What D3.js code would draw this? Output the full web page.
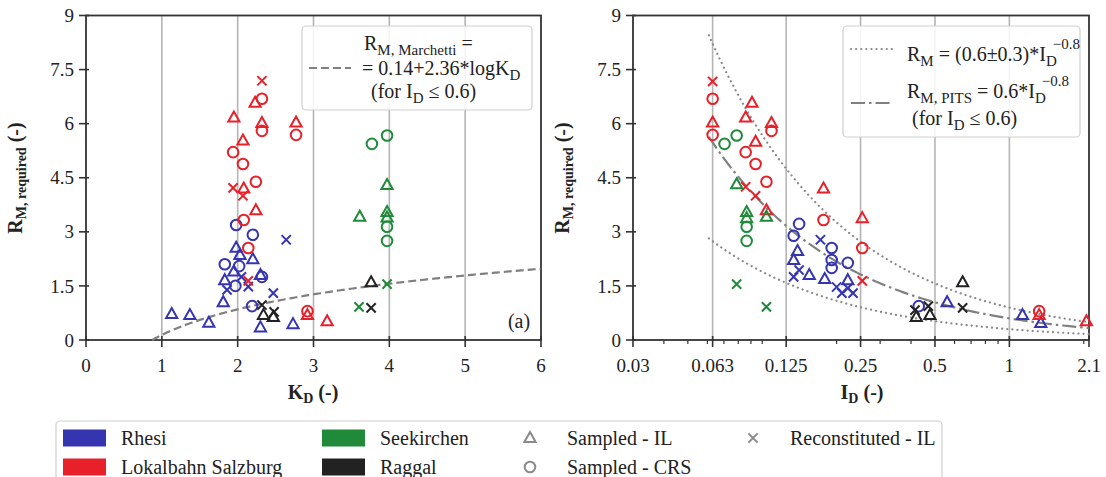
<!DOCTYPE html>
<html>
<head>
<meta charset="utf-8">
<script src="https://cdn.jsdelivr.net/npm/d3@7"></script>
<style>
  body { margin: 0; background: #fff; }
  svg, svg text { font-family: "Liberation Serif", "Times New Roman", "DejaVu Serif", serif; fill: #222; }
</style>
</head>
<body>
<div id="container"></div>
<script>
// ---- data ----
// rows: [site, test type, x, R_M required]
const kdPoints = [
  ["Rhesi", "IL", 1.98, 2.56], ["Rhesi", "IL", 2.03, 2.36], ["Rhesi", "IL", 2.2, 2.24],
  ["Rhesi", "IL", 1.95, 1.9], ["Rhesi", "IL", 2.3, 1.8], ["Rhesi", "IL", 1.83, 1.66],
  ["Rhesi", "IL", 1.81, 1.05], ["Rhesi", "IL", 1.13, 0.72], ["Rhesi", "IL", 1.37, 0.69],
  ["Rhesi", "IL", 1.62, 0.48], ["Rhesi", "IL", 2.3, 0.35], ["Rhesi", "IL", 2.73, 0.44],
  ["Rhesi", "CRS", 1.98, 3.19], ["Rhesi", "CRS", 2.2, 2.92], ["Rhesi", "CRS", 1.83, 2.1],
  ["Rhesi", "CRS", 2.02, 2.05], ["Rhesi", "CRS", 2.32, 1.75], ["Rhesi", "CRS", 1.97, 1.5],
  ["Rhesi", "CRS", 2.19, 0.94],
  ["Rhesi", "REC", 2.64, 2.78], ["Rhesi", "REC", 2.14, 1.48], ["Rhesi", "REC", 1.86, 1.39],
  ["Rhesi", "REC", 2.47, 1.3], ["Rhesi", "REC", 2.05, 1.75],
  ["Lokalbahn", "REC", 2.32, 7.19], ["Lokalbahn", "IL", 2.23, 6.58], ["Lokalbahn", "CRS", 2.32, 6.69],
  ["Lokalbahn", "IL", 1.95, 6.17], ["Lokalbahn", "IL", 2.32, 6.02], ["Lokalbahn", "CRS", 2.32, 5.8],
  ["Lokalbahn", "IL", 2.77, 6.03], ["Lokalbahn", "CRS", 2.77, 5.69], ["Lokalbahn", "IL", 2.07, 5.53],
  ["Lokalbahn", "CRS", 1.94, 5.21], ["Lokalbahn", "CRS", 2.07, 4.88], ["Lokalbahn", "CRS", 2.24, 4.39],
  ["Lokalbahn", "REC", 1.94, 4.22], ["Lokalbahn", "IL", 2.08, 4.2], ["Lokalbahn", "REC", 2.07, 4.0],
  ["Lokalbahn", "IL", 2.24, 3.6], ["Lokalbahn", "CRS", 2.08, 3.33], ["Lokalbahn", "CRS", 2.14, 2.55],
  ["Lokalbahn", "REC", 2.14, 1.64], ["Lokalbahn", "CRS", 2.92, 0.8], ["Lokalbahn", "IL", 2.92, 0.69],
  ["Lokalbahn", "IL", 3.18, 0.52],
  ["Seekirchen", "CRS", 3.77, 5.44], ["Seekirchen", "CRS", 3.97, 5.67], ["Seekirchen", "IL", 3.97, 4.3],
  ["Seekirchen", "IL", 3.61, 3.42], ["Seekirchen", "IL", 3.97, 3.55], ["Seekirchen", "IL", 3.97, 3.4],
  ["Seekirchen", "CRS", 3.97, 3.14], ["Seekirchen", "CRS", 3.97, 2.75], ["Seekirchen", "REC", 3.97, 1.55],
  ["Seekirchen", "REC", 3.6, 0.92],
  ["Raggal", "IL", 3.76, 1.6], ["Raggal", "REC", 3.76, 0.89], ["Raggal", "REC", 2.32, 0.97],
  ["Raggal", "IL", 2.34, 0.69], ["Raggal", "REC", 2.48, 0.78], ["Raggal", "IL", 2.47, 0.64]
];

const idPoints = [
  ["Rhesi", "IL", 0.139, 2.47], ["Rhesi", "IL", 0.134, 2.22], ["Rhesi", "IL", 0.155, 1.8],
  ["Rhesi", "IL", 0.179, 1.69], ["Rhesi", "IL", 0.222, 1.66], ["Rhesi", "IL", 0.56, 1.05],
  ["Rhesi", "IL", 1.13, 0.69], ["Rhesi", "IL", 1.34, 0.47],
  ["Rhesi", "CRS", 0.141, 3.22], ["Rhesi", "CRS", 0.134, 2.89], ["Rhesi", "CRS", 0.191, 2.55],
  ["Rhesi", "CRS", 0.191, 2.22], ["Rhesi", "CRS", 0.222, 2.14], ["Rhesi", "CRS", 0.191, 2.0],
  ["Rhesi", "CRS", 0.43, 0.94],
  ["Rhesi", "REC", 0.172, 2.78], ["Rhesi", "REC", 0.141, 1.94], ["Rhesi", "REC", 0.134, 1.75],
  ["Rhesi", "REC", 0.2, 1.47], ["Rhesi", "REC", 0.222, 1.44], ["Rhesi", "REC", 0.21, 1.3],
  ["Rhesi", "REC", 0.233, 1.3],
  ["Lokalbahn", "REC", 0.063, 7.17], ["Lokalbahn", "CRS", 0.063, 6.69], ["Lokalbahn", "IL", 0.063, 6.03],
  ["Lokalbahn", "CRS", 0.063, 5.69], ["Lokalbahn", "IL", 0.0909, 6.58], ["Lokalbahn", "IL", 0.0857, 6.17],
  ["Lokalbahn", "IL", 0.109, 6.02], ["Lokalbahn", "CRS", 0.109, 5.8], ["Lokalbahn", "IL", 0.094, 5.5],
  ["Lokalbahn", "CRS", 0.0857, 5.21], ["Lokalbahn", "CRS", 0.094, 4.88], ["Lokalbahn", "CRS", 0.104, 4.39],
  ["Lokalbahn", "REC", 0.0857, 4.25], ["Lokalbahn", "IL", 0.177, 4.2], ["Lokalbahn", "REC", 0.094, 4.0],
  ["Lokalbahn", "IL", 0.104, 3.6], ["Lokalbahn", "CRS", 0.177, 3.33], ["Lokalbahn", "IL", 0.254, 3.38],
  ["Lokalbahn", "CRS", 0.254, 2.55], ["Lokalbahn", "REC", 0.254, 1.64], ["Lokalbahn", "CRS", 1.32, 0.8],
  ["Lokalbahn", "IL", 1.32, 0.69], ["Lokalbahn", "IL", 2.05, 0.52],
  ["Seekirchen", "CRS", 0.0704, 5.44], ["Seekirchen", "CRS", 0.0788, 5.67], ["Seekirchen", "IL", 0.0788, 4.32],
  ["Seekirchen", "IL", 0.0865, 3.55], ["Seekirchen", "IL", 0.0865, 3.38], ["Seekirchen", "IL", 0.104, 3.42],
  ["Seekirchen", "CRS", 0.0865, 3.14], ["Seekirchen", "CRS", 0.0865, 2.75], ["Seekirchen", "REC", 0.0788, 1.55],
  ["Seekirchen", "REC", 0.104, 0.92],
  ["Raggal", "IL", 0.647, 1.6], ["Raggal", "REC", 0.647, 0.89], ["Raggal", "REC", 0.47, 0.94],
  ["Raggal", "REC", 0.415, 0.83], ["Raggal", "IL", 0.42, 0.64], ["Raggal", "IL", 0.477, 0.69]
];

const kdTicks = [0, 1, 2, 3, 4, 5, 6];
const idTicks = [0.03, 0.063, 0.125, 0.25, 0.5, 1, 2.1];
const idMinorTicks = [0.04, 0.05, 0.06, 0.07, 0.08, 0.09, 0.1, 0.2, 0.3, 0.4, 0.6, 0.7, 0.8, 0.9, 2];
const rTicks = [0, 1.5, 3, 4.5, 6, 7.5, 9];

const sites = ["Rhesi", "Lokalbahn", "Seekirchen", "Raggal"];
const siteLabels = ["Rhesi", "Lokalbahn Salzburg", "Seekirchen", "Raggal"];
const siteColors = ["#3535b0", "#e8202a", "#1f8a3a", "#222222"];

// fitted relations from the legends
const marchetti = { a: 0.14, b: 2.36 };           // R = a + b*log10(KD)
const pits = { c: 0.6, spread: 0.3, exp: -0.8 };  // R = c*ID^exp

// ---- layout ----
const W = 1106, H = 477;
const FONT = "'Liberation Serif', 'Times New Roman', 'DejaVu Serif', serif";
const svg = d3.select("#container").append("svg").attr("width", W).attr("height", H)
  .attr("font-family", FONT);

const y = d3.scaleLinear().domain([0, 9]).range([340, 15.5]);
const xL = d3.scaleLinear().domain([0, 6]).range([86, 541]);
const xR = d3.scaleLog().domain([0.03, 2.1]).range([633, 1089]);
const color = d3.scaleOrdinal().domain(sites).range(siteColors);

const gridColor = "#b5b5b5", axisColor = "#333";

function txt(g) {
  return g.append("text").style("font-family", FONT);
}

function marker(g, type, cx, cy, col) {
  if (type === "IL") {
    g.append("path").attr("d", `M${cx},${cy - 6}L${cx + 5.6},${cy + 4}L${cx - 5.6},${cy + 4}Z`)
      .attr("fill", "none").attr("stroke", col).attr("stroke-width", 2).attr("stroke-linejoin", "miter");
  } else if (type === "CRS") {
    g.append("circle").attr("cx", cx).attr("cy", cy).attr("r", 5.3)
      .attr("fill", "none").attr("stroke", col).attr("stroke-width", 2);
  } else {
    const s = 4.6;
    g.append("path").attr("d", `M${cx - s},${cy - s}L${cx + s},${cy + s}M${cx - s},${cy + s}L${cx + s},${cy - s}`)
      .attr("fill", "none").attr("stroke", col).attr("stroke-width", 2);
  }
}

function panel(x, ticks, tickFmt, gridVals, minor) {
  const [x0, x1] = x.range();
  const g = svg.append("g");
  g.selectAll(".grid").data(gridVals).join("line")
    .attr("x1", d => x(d)).attr("x2", d => x(d)).attr("y1", y(9)).attr("y2", y(0))
    .attr("stroke", gridColor).attr("stroke-width", 1.6);
  // frame
  g.append("rect").attr("x", x0).attr("y", y(9)).attr("width", x1 - x0).attr("height", y(0) - y(9))
    .attr("fill", "none").attr("stroke", axisColor).attr("stroke-width", 1.8);
  // x ticks
  g.selectAll(".xt").data(ticks).join("line")
    .attr("x1", d => x(d)).attr("x2", d => x(d)).attr("y1", y(0) - 4).attr("y2", y(0) + 7)
    .attr("stroke", axisColor).attr("stroke-width", 1.6);
  if (minor) {
    g.selectAll(".xm").data(minor).join("line")
      .attr("x1", d => x(d)).attr("x2", d => x(d)).attr("y1", y(0)).attr("y2", y(0) + 4)
      .attr("stroke", axisColor).attr("stroke-width", 1.2);
  }
  g.selectAll(".xl").data(ticks).join("text")
    .attr("x", d => x(d)).attr("y", 372).attr("text-anchor", "middle")
    .style("font-family", FONT).style("font-size", "19px").text(tickFmt);
  // y ticks
  g.selectAll(".yt").data(rTicks).join("line")
    .attr("x1", x0 - 7).attr("x2", x0 + 3).attr("y1", d => y(d)).attr("y2", d => y(d))
    .attr("stroke", axisColor).attr("stroke-width", 1.6);
  g.selectAll(".yl").data(rTicks).join("text")
    .attr("x", x0 - 12).attr("y", d => y(d)).attr("dy", "0.35em").attr("text-anchor", "end")
    .style("font-family", FONT).style("font-size", "19px").text(d => d);
  // y title
  const yt = txt(g).attr("transform", `translate(${x0 - 64},178) rotate(-90)`)
    .attr("text-anchor", "middle").style("font-weight", "bold").style("font-size", "20px");
  yt.append("tspan").text("R");
  yt.append("tspan").attr("dy", 4).style("font-size", "14px").text("M, required");
  yt.append("tspan").attr("dy", -4).text(" (-)");
  return g;
}

// ---- left panel (K_D) ----
const gL = panel(xL, kdTicks, d => d, [1, 2, 3, 4, 5]);
const kdCurve = d3.range(0.873, 6.001, 0.02).map(k => [k, marchetti.a + marchetti.b * Math.log10(k)]);
gL.append("path").datum(kdCurve)
  .attr("d", d3.line().x(d => xL(d[0])).y(d => y(Math.max(0, d[1]))))
  .attr("fill", "none").attr("stroke", "#808080").attr("stroke-width", 2.2).attr("stroke-dasharray", "8,4");
kdPoints.forEach(p => marker(gL, p[1], xL(p[2]), y(p[3]), color(p[0])));

const kt = txt(gL).attr("x", 313).attr("y", 399).attr("text-anchor", "middle")
  .style("font-weight", "bold").style("font-size", "20px");
kt.append("tspan").text("K");
kt.append("tspan").attr("dy", 4).style("font-size", "14px").text("D");
kt.append("tspan").attr("dy", -4).text(" (-)");

txt(gL).attr("x", 519).attr("y", 328).attr("text-anchor", "middle")
  .style("font-size", "20px").text("(a)");

// left legend
const lgL = gL.append("g");
lgL.append("rect").attr("x", 302).attr("y", 26).attr("width", 230).attr("height", 84).attr("rx", 4)
  .attr("fill", "#fff").attr("fill-opacity", 0.85).attr("stroke", "#cfcfcf").attr("stroke-width", 1.2);
lgL.append("line").attr("x1", 309).attr("x2", 351).attr("y1", 68).attr("y2", 68)
  .attr("stroke", "#808080").attr("stroke-width", 2.2).attr("stroke-dasharray", "8,4");
let t = txt(lgL).attr("x", 364).attr("y", 50).style("font-size", "20px");
t.append("tspan").text("R");
t.append("tspan").attr("dy", 5).style("font-size", "15px").text("M, Marchetti");
t.append("tspan").attr("dy", -5).text(" =");
t = txt(lgL).attr("x", 362).attr("y", 75).style("font-size", "20px");
t.append("tspan").text("= 0.14+2.36*logK");
t.append("tspan").attr("dy", 5).style("font-size", "15px").text("D");
t = txt(lgL).attr("x", 371).attr("y", 98).style("font-size", "20px");
t.append("tspan").text("(for I");
t.append("tspan").attr("dy", 5).style("font-size", "15px").text("D");
t.append("tspan").attr("dy", -5).text(" \u2264 0.6)");

// ---- right panel (I_D) ----
const gR = panel(xR, idTicks, d => d, [0.063, 0.125, 0.25, 0.5, 1], idMinorTicks);
const idGrid = d3.range(-4.2, 0.75, 0.02).map(v => Math.exp(v)).filter(v => v >= 0.06 && v <= 2.1);
const powLine = c => d3.line().x(d => xR(d)).y(d => y(c * Math.pow(d, pits.exp)));
[pits.c + pits.spread, pits.c - pits.spread].forEach(c => {
  gR.append("path").datum(idGrid).attr("d", powLine(c))
    .attr("fill", "none").attr("stroke", "#8a8a8a").attr("stroke-width", 2.2)
    .attr("stroke-dasharray", "0.1,5").attr("stroke-linecap", "round");
});
gR.append("path").datum(idGrid).attr("d", powLine(pits.c))
  .attr("fill", "none").attr("stroke", "#808080").attr("stroke-width", 2.2).attr("stroke-dasharray", "14,4,2.5,4");
idPoints.forEach(p => marker(gR, p[1], xR(p[2]), y(p[3]), color(p[0])));

const it = txt(gR).attr("x", 862).attr("y", 399).attr("text-anchor", "middle")
  .style("font-weight", "bold").style("font-size", "20px");
it.append("tspan").text("I");
it.append("tspan").attr("dy", 4).style("font-size", "14px").text("D");
it.append("tspan").attr("dy", -4).text(" (-)");

// right legend
const lgR = gR.append("g");
lgR.append("rect").attr("x", 843).attr("y", 26).attr("width", 237).attr("height", 111).attr("rx", 4)
  .attr("fill", "#fff").attr("fill-opacity", 0.85).attr("stroke", "#cfcfcf").attr("stroke-width", 1.2);
lgR.append("line").attr("x1", 851).attr("x2", 892).attr("y1", 49).attr("y2", 49)
  .attr("stroke", "#8a8a8a").attr("stroke-width", 2.2).attr("stroke-dasharray", "0.1,5").attr("stroke-linecap", "round");
lgR.append("line").attr("x1", 851).attr("x2", 892).attr("y1", 103).attr("y2", 103)
  .attr("stroke", "#808080").attr("stroke-width", 2.2).attr("stroke-dasharray", "14,4,2.5,4");
t = txt(lgR).attr("x", 907).attr("y", 61).style("font-size", "20px");
t.append("tspan").text("R");
t.append("tspan").attr("dy", 5).style("font-size", "15px").text("M");
t.append("tspan").attr("dy", -5).text(" = (0.6\u00b10.3)*I");
t.append("tspan").attr("dy", 5).style("font-size", "15px").text("D");
t.append("tspan").attr("dy", -17).attr("dx", -4).style("font-size", "15px").text("\u22120.8");
t = txt(lgR).attr("x", 907).attr("y", 98).style("font-size", "20px");
t.append("tspan").text("R");
t.append("tspan").attr("dy", 5).style("font-size", "15px").text("M, PITS");
t.append("tspan").attr("dy", -5).text(" = 0.6*I");
t.append("tspan").attr("dy", 5).style("font-size", "15px").text("D");
t.append("tspan").attr("dy", -17).attr("dx", -4).style("font-size", "15px").text("\u22120.8");
t = txt(lgR).attr("x", 912).attr("y", 125).style("font-size", "20px");
t.append("tspan").text("(for I");
t.append("tspan").attr("dy", 5).style("font-size", "15px").text("D");
t.append("tspan").attr("dy", -5).text(" \u2264 0.6)");

// ---- bottom legend ----
const lg = svg.append("g");
lg.append("rect").attr("x", 56).attr("y", 421).attr("width", 886).attr("height", 70).attr("rx", 4)
  .attr("fill", "#fff").attr("stroke", "#cfcfcf").attr("stroke-width", 1.2);
const rowY = [438, 467];
const colX = [63, 322];
sites.forEach((s, i) => {
  const cx = colX[Math.floor(i / 2)], cy = rowY[i % 2];
  lg.append("rect").attr("x", cx).attr("y", cy - 8.5).attr("width", 43).attr("height", 17).attr("fill", color(s));
  txt(lg).attr("x", cx + 58).attr("y", cy).attr("dy", "0.35em").style("font-size", "20px").text(siteLabels[i]);
});
const typeItems = [["IL", "Sampled - IL", 530, rowY[0]], ["CRS", "Sampled - CRS", 530, rowY[1]], ["REC", "Reconstituted - IL", 753, rowY[0]]];
typeItems.forEach(([tp, lab, cx, cy]) => {
  marker(lg, tp, cx, cy, "#8a8a8a");
  txt(lg).attr("x", cx + 37).attr("y", cy).attr("dy", "0.35em").style("font-size", "20px").text(lab);
});
</script>
</body>
</html>
